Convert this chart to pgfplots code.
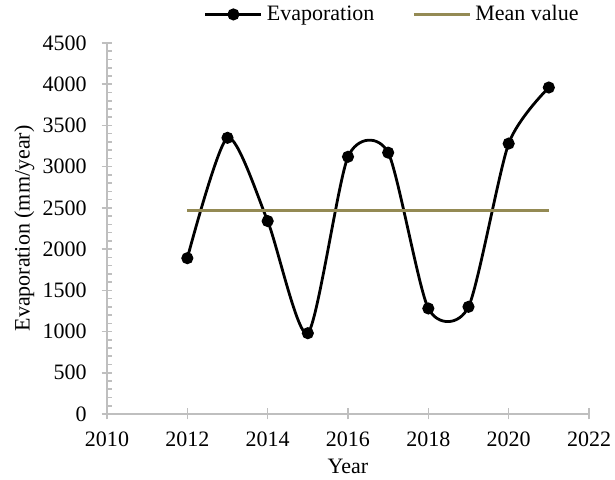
\documentclass[border=0pt]{standalone}
\usepackage{fontspec}
\setmainfont{Liberation Serif}
\usepackage{pgfplots}
\pgfplotsset{compat=1.18}
\definecolor{axgray}{RGB}{191,191,191}
\definecolor{meanolive}{RGB}{148,138,84}
\pgfplotsset{
  evaplegend/.style={legend image code/.code={\draw[mark repeat=2,mark phase=2,##1] plot coordinates {(0pt,0pt)(14pt,0pt)(28pt,0pt)};}},
  meanlegend/.style={legend image code/.code={\draw[##1] (0pt,0pt) -- (28pt,0pt);}},
}
\begin{document}
\begin{tikzpicture}
\begin{axis}[
  scale only axis, width=241pt, height=185.5pt,
  xmin=2010, xmax=2022, ymin=0, ymax=4500,
  axis x line=bottom, axis y line=left,
  axis line style={-, draw=axgray, line width=0.8pt},
  xtick={2010,2012,...,2022}, ytick={0,500,...,4500},
  minor x tick num=4, minor y tick num=4,
  tick align=inside,
  major tick length=5.5pt, minor tick length=2.5pt,
  every tick/.style={draw=axgray, line width=0.8pt},
  major x tick style={yshift=-2.75pt},
  major y tick style={xshift=-2.75pt},
  /pgf/number format/assume math mode=true,
  /pgf/number format/1000 sep={},
  ticklabel style={font=\fontsize{11}{13}\selectfont},
  xticklabel style={yshift=-5.5pt},
  yticklabel style={xshift=-6.7pt},
  xlabel={Year}, ylabel={Evaporation (mm/year)},
  xlabel style={yshift=1pt},
  ylabel style={yshift=-2.8pt},
  label style={font=\fontsize{11}{13}\selectfont},
  legend style={draw=none, fill=none, at={(0.594,1.077)}, anchor=center,
    legend columns=2, font=\fontsize{11}{13}\selectfont,
    /tikz/every even column/.append style={column sep=17pt}},
  legend cell align=left,
]
\addplot[black, line width=1.4pt, smooth, tension=0.42, mark=*, mark size=2.3pt, evaplegend]
  coordinates {
  (2012,1890) (2013,3350) (2014,2340) (2015,980) (2016,3120)
  (2017,3170) (2018,1280) (2019,1300) (2020,3280) (2021,3960)
  };
\addlegendentry{Evaporation}
\addplot[meanolive, line width=1.5pt, meanlegend]
  coordinates {(2012,2467) (2021,2467)};
\addlegendentry{Mean value}
\end{axis}
\pgfresetboundingbox
\path ([shift={(-53.5pt,-33pt)}]current axis.south west) rectangle ([shift={(13pt,21.5pt)}]current axis.north east);
\end{tikzpicture}
\end{document}
